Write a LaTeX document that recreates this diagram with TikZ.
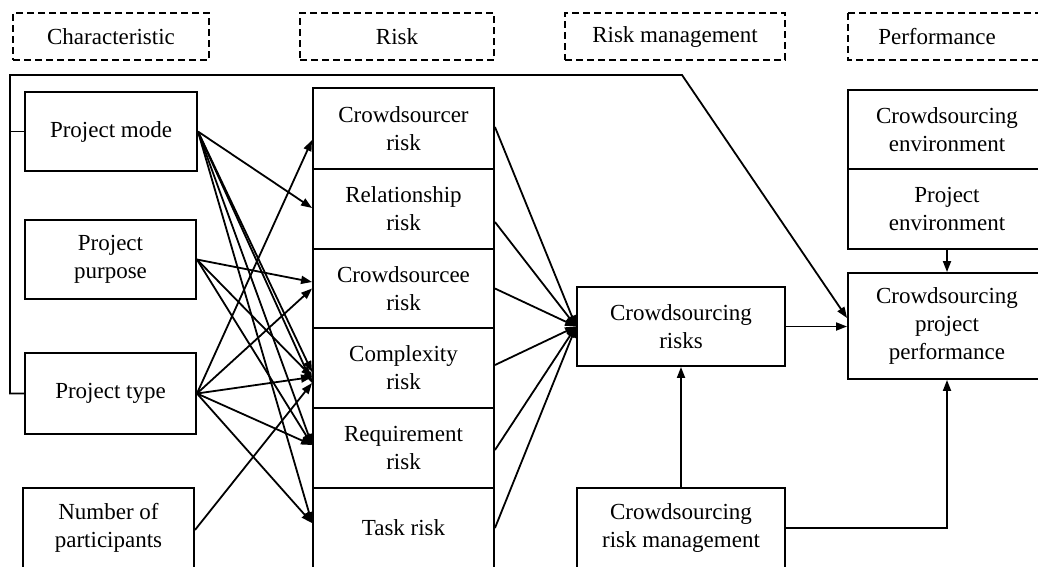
\documentclass[tikz,border=0pt]{standalone}
\usepackage{fontspec}
\setmainfont{Liberation Serif}
\usetikzlibrary{arrows.meta,calc}
\newcommand\bodyfont{\fontsize{23pt}{28pt}\selectfont}
\begin{document}
\begin{tikzpicture}[x=1pt,y=-1pt,
  box/.style={draw, line width=1.9pt, align=center, font=\bodyfont, inner sep=0pt},
  hdr/.style={draw, dash pattern=on 7pt off 4pt, line width=1.7pt, font=\bodyfont, inner sep=0pt, minimum height=47pt},
  hdrline/.style={draw, dash pattern=on 7pt off 4pt, line width=1.7pt},
  conn/.style={line width=1.8pt},
  arr/.style={conn, -{Triangle[length=11pt,width=8pt]}}]
\useasboundingbox (0,0) rectangle (1038,566);
\clip (0,0) rectangle (1038,566);

% headers
\node[hdr, minimum width=196pt] (h1) at (111,36.5) {Characteristic};
\node[hdr, minimum width=194pt] (h2) at (397,36.5) {Risk};
\node[hdr, minimum width=220pt] (h3) at (675,36.5) {Risk management};
\node[font=\bodyfont, inner sep=0pt] (h4) at (937,36.5) {Performance};
\draw[hdrline] (848,13) rectangle (1052,60);

% characteristics
\node[box, minimum width=172pt, minimum height=79pt] (pm) at (111,131.5) {Project mode};
\node[box, minimum width=171pt, minimum height=79pt] (pp) at (110.5,259.5) {Project\\purpose};
\node[box, minimum width=171pt, minimum height=81pt] (pt) at (110.5,393.5) {Project type};
\node[box, minimum width=171pt, minimum height=80pt] (np) at (108.5,528) {Number of\\participants};

% risks
\node[box, minimum width=181pt, minimum height=81pt] (r1) at (403.5,128.5) {Crowdsourcer\\risk};
\node[box, minimum width=181pt, minimum height=80pt] (r2) at (403.5,209) {Relationship\\risk};
\node[box, minimum width=181pt, minimum height=79pt] (r3) at (403.5,288.5) {Crowdsourcee\\risk};
\node[box, minimum width=181pt, minimum height=80pt] (r4) at (403.5,368) {Complexity\\risk};
\node[box, minimum width=181pt, minimum height=80pt] (r5) at (403.5,448) {Requirement\\risk};
\node[box, minimum width=181pt, minimum height=80pt] (r6) at (403.5,528) {Task risk};

% risk management
\node[box, minimum width=208pt, minimum height=79pt] (cr) at (681,326.5) {Crowdsourcing\\risks};
\node[box, minimum width=208pt, minimum height=80pt] (crm) at (681,528) {Crowdsourcing\\risk management};

% performance
\node[box, minimum width=198pt, minimum height=79pt] (ce) at (947,129.5) {Crowdsourcing\\environment};
\node[box, minimum width=198pt, minimum height=80pt] (pe) at (947,209) {Project\\environment};
\node[box, minimum width=198pt, minimum height=106pt] (cpp) at (947,326) {Crowdsourcing\\project\\performance};

% frame line
\coordinate (tl) at (10,75);
\coordinate (tr) at (682,75);
\draw[arr] (pt.west) -| (tl) -- (tr) -- ($(cpp.west)+(0,-8)$);
\draw[conn] (pm.west) -- (pm.west -| tl);

% characteristic -> risk
\draw[arr] (pm.east) -- ($(r2.west)+(0,-1)$);
\draw[arr] (pm.east) -- ($(r4.west)+(0,4)$);
\draw[arr] (pm.east) -- ($(r4.west)+(0,15)$);
\draw[arr] (pm.east) -- ($(r5.west)+(0,-3)$);
\draw[arr] (pm.east) -- ($(r6.west)+(0,-5)$);

\draw[arr] (pp.east) -- ($(r3.west)+(0,-6.5)$);
\draw[arr] (pp.east) -- ($(r4.west)+(0,9)$);
\draw[arr] (pp.east) -- ($(r5.west)+(0,-3)$);

\draw[arr] (pt.east) -- ($(r1.west)+(0,11.5)$);
\draw[arr] (pt.east) -- (r3.west);
\draw[arr] (pt.east) -- ($(r4.west)+(0,9)$);
\draw[arr] (pt.east) -- ($(r5.west)+(0,-3)$);
\draw[arr] (pt.east) -- ($(r6.west)+(0,-5)$);

\draw[arr] ($(np.east)+(0,2)$) -- ($(r4.west)+(0,15)$);

% risk -> crowdsourcing risks
\draw[arr] ($(r1.east)+(0,-1.5)$) -- (cr.west);
\draw[arr] ($(r2.east)+(0,13)$) -- (cr.west);
\draw[arr] (r3.east) -- (cr.west);
\draw[arr] ($(r4.east)+(0,-3)$) -- (cr.west);
\draw[arr] ($(r5.east)+(0,2)$) -- (cr.west);
\draw[arr] (r6.east) -- (cr.west);

% right part
\draw[arr] (cr.east) -- (cr.east -| cpp.west);
\draw[arr] (pe.south) -- (cpp.north);
\draw[arr] (crm.north) -- (cr.south);
\draw[arr] (crm.east) -| (cpp.south);
\end{tikzpicture}
\end{document}
